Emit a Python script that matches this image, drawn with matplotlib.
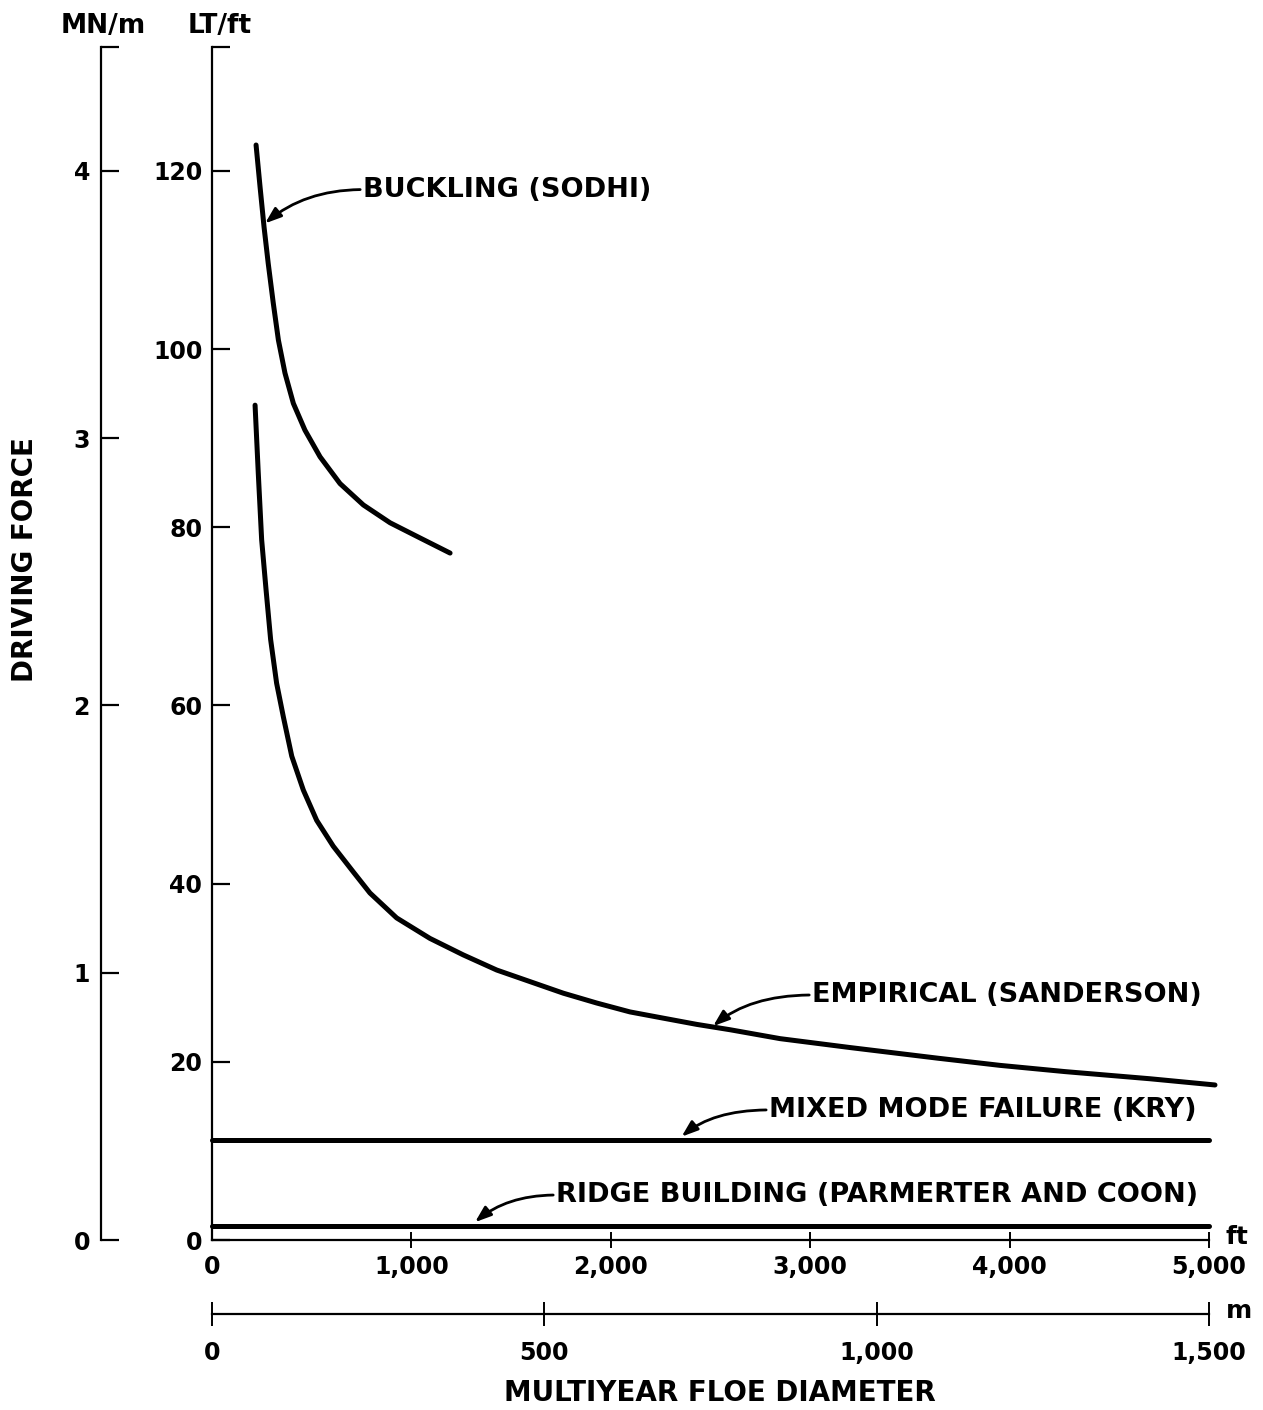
import matplotlib
matplotlib.use("Agg")
import matplotlib.pyplot as plt

plt.rcParams['font.family'] = ['DejaVu Sans']
plt.rcParams['font.weight'] = 'bold'

# ---- data ----
buckling_ft = [221, 241, 261, 282, 307, 333, 366, 408, 466, 542, 642, 759, 893, 1043, 1194]
buckling_lt = [122.9, 118.2, 113.7, 109.6, 105.2, 101.0, 97.3, 93.9, 90.9, 87.9, 84.9,
               82.5, 80.5, 78.8, 77.1]

empirical_ft = [216, 232, 249, 271, 294, 324, 358, 400, 458, 525, 608, 709, 792, 926,
                1093, 1260, 1428, 1595, 1762, 1929, 2096, 2263, 2431, 2598, 2849, 3200,
                3642, 3952, 4278, 4703, 5030]
empirical_lt = [93.7, 86.1, 78.6, 73.0, 67.4, 62.5, 58.7, 54.3, 50.5, 47.1, 44.2, 41.3,
                38.95, 36.15, 33.85, 32.0, 30.3, 29.0, 27.7, 26.6, 25.6, 24.9, 24.2, 23.6,
                22.6, 21.6, 20.4, 19.6, 18.9, 18.1, 17.4]

mixed_ft = [0, 5000]
mixed_lt = [11.2, 11.2]

ridge_ft = [0, 5000]
ridge_lt = [1.6, 1.6]

lt_ticks = [0, 20, 40, 60, 80, 100, 120]
mn_ticks = [0, 1, 2, 3, 4]
ft_ticks = [0, 1000, 2000, 3000, 4000, 5000]
ft_labels = ['0', '1,000', '2,000', '3,000', '4,000', '5,000']
m_ticks = [0, 500, 1000, 1500]
m_labels = ['0', '500', '1,000', '1,500']

labels = ['BUCKLING (SODHI)', 'EMPIRICAL (SANDERSON)',
          'MIXED MODE FAILURE (KRY)', 'RIDGE BUILDING (PARMERTER AND COON)']
label_text_xy = [(757, 117.9), (3009, 27.5), (2793, 14.6), (1725, 5.05)]
label_tip_xy = [(266, 114.1), (2513, 24.0), (2355, 11.6), (1319, 2.0)]

YTOP = 133.9
LT_PER_MN = 30.0
M_PER_FT = 0.3

# ---- figure ----
W, H = 1263, 1410
fig = plt.figure(figsize=(W / 100, H / 100), dpi=100)
ax = fig.add_axes([212 / W, (H - 1240) / H, 997 / W, (1240 - 47) / H])

blk = 'black'
for xs, ys in [(buckling_ft, buckling_lt), (empirical_ft, empirical_lt),
               (mixed_ft, mixed_lt), (ridge_ft, ridge_lt)]:
    ax.plot(xs, ys, color=blk, lw=3.6, solid_capstyle='round',
            solid_joinstyle='round', clip_on=False)

ax.set_xlim(0, 5000)
ax.set_ylim(0, YTOP)
for s in ['top', 'right']:
    ax.spines[s].set_visible(False)
for s in ['left', 'bottom']:
    ax.spines[s].set_linewidth(1.6)

ax.set_yticks(lt_ticks + [YTOP])
ax.set_yticklabels([str(v) for v in lt_ticks] + [''])
ax.tick_params(axis='y', direction='in', length=13, width=1.6, pad=7, labelsize=17)

ax.set_xticks(ft_ticks)
ax.set_xticklabels(ft_labels)
ax.tick_params(axis='x', direction='inout', length=12, width=1.4, pad=4.5, labelsize=17)
ax.xaxis.get_major_ticks()[0].tick1line.set_visible(False)

# MN/m axis
sec_y = ax.secondary_yaxis(-0.1113, functions=(lambda v: v / LT_PER_MN, lambda v: v * LT_PER_MN))
sec_y.set_yticks(mn_ticks + [YTOP / LT_PER_MN])
sec_y.set_yticklabels([str(v) for v in mn_ticks] + [''])
sec_y.tick_params(direction='in', length=13, width=1.6, pad=8, labelsize=17)
sec_y.spines['left'].set_linewidth(1.6)

# metre axis
sec_x = ax.secondary_xaxis(-0.0622, functions=(lambda v: v * M_PER_FT, lambda v: v / M_PER_FT))
sec_x.set_xticks(m_ticks)
sec_x.set_xticklabels(m_labels)
sec_x.tick_params(direction='inout', length=17, width=1.4, pad=11, labelsize=17)
sec_x.spines['bottom'].set_linewidth(1.6)

# unit labels
ax.annotate('ft', xy=(1, 0), xycoords='axes fraction', xytext=(12, 2),
            textcoords='offset points', ha='left', va='center', fontsize=18, fontweight='bold')
ax.annotate('m', xy=(1, -0.0622), xycoords='axes fraction', xytext=(12, 2),
            textcoords='offset points', ha='left', va='center', fontsize=18, fontweight='bold')
fig.text(103 / W, 1 - 26 / H, 'MN/m', ha='center', va='center', fontsize=19, fontweight='bold')
fig.text(220 / W, 1 - 26 / H, 'LT/ft', ha='center', va='center', fontsize=19, fontweight='bold')
fig.text(25 / W, 1 - 560 / H, 'DRIVING FORCE', ha='center', va='center', rotation=90,
         fontsize=20, fontweight='bold')
fig.text(720 / W, 1 - 1393 / H, 'MULTIYEAR FLOE DIAMETER', ha='center', va='center',
         fontsize=20, fontweight='bold')

# curve labels with curved arrows
for lab, txy, tip in zip(labels, label_text_xy, label_tip_xy):
    ax.annotate(lab, xy=tip, xytext=txy, ha='left', va='center', fontsize=19.5,
                fontweight='bold', annotation_clip=False,
                arrowprops=dict(arrowstyle='-|>,head_length=0.5,head_width=0.18',
                                connectionstyle='angle3,angleA=0,angleB=40',
                                lw=2.0, color=blk, relpos=(0, 0.5),
                                shrinkA=0, shrinkB=0))

fig.savefig('out.png', dpi=100, facecolor='white')
